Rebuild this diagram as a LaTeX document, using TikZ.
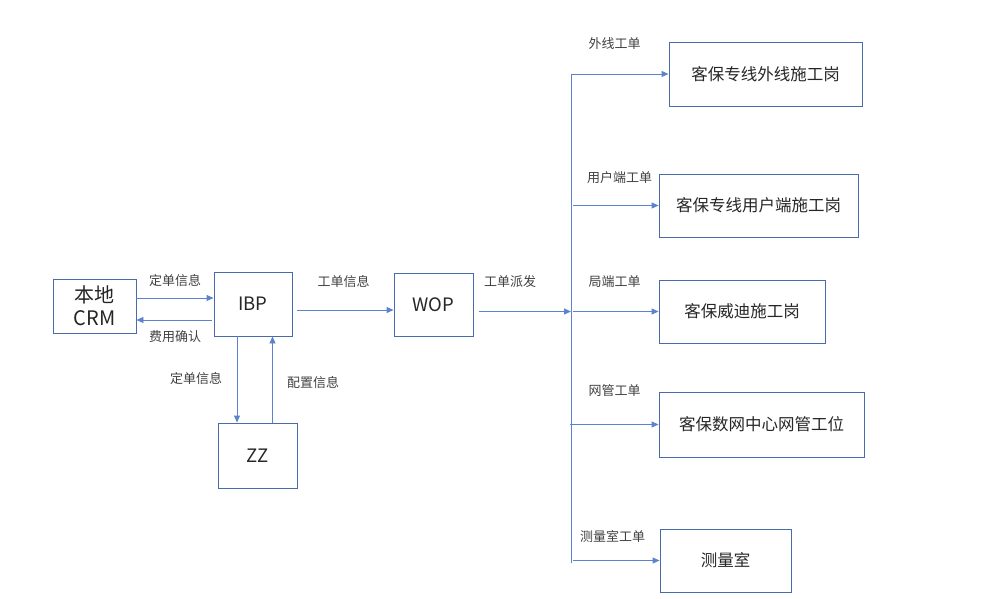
\documentclass[tikz,border=0pt]{standalone}
\usepackage{fontspec}
\setmainfont{Noto Sans CJK SC}
\usetikzlibrary{arrows.meta,calc}
\definecolor{boxc}{HTML}{4A6BAA}
\definecolor{arrc}{HTML}{5B82CC}
\definecolor{txtc}{HTML}{262626}
\definecolor{lblc}{HTML}{404040}
\begin{document}
\begin{tikzpicture}[x=1pt,y=-1pt,
  box/.style={draw=boxc,line width=0.9pt,inner sep=0pt,text=txtc,font=\fontsize{16.5}{18}\selectfont},
  arr/.style={draw=arrc,line width=0.9pt,-{Triangle[length=7pt,width=6pt]}},
  ln/.style={draw=arrc,line width=0.9pt},
  lbl/.style={text=lblc,inner sep=0pt,font=\fontsize{13}{14}\selectfont}]
\useasboundingbox (0,0) rectangle (1004,599);
% boxes
\node[box,minimum width=83pt,minimum height=54pt,align=center,font=\fontsize{20}{23}\selectfont] (crm) at (94.5,306) {本地\\CRM};
\node[box,minimum width=78pt,minimum height=64pt,font=\fontsize{18.5}{20}\selectfont] (ibp) at (253,304) {IBP};
\node[box,minimum width=79pt,minimum height=65pt,font=\fontsize{18.5}{20}\selectfont] (zz) at (257.5,455.5) {ZZ};
\node[box,minimum width=79pt,minimum height=63pt,font=\fontsize{18.5}{20}\selectfont] (wop) at (433.5,304.5) {WOP};
\node[box,minimum width=193pt,minimum height=64pt] (b1) at (765.5,74) {客保专线外线施工岗};
\node[box,minimum width=199pt,minimum height=63pt] (b2) at (758.5,205.5) {客保专线用户端施工岗};
\node[box,minimum width=166pt,minimum height=63pt] (b3) at (742,311.5) {客保威迪施工岗};
\node[box,minimum width=205pt,minimum height=65pt] (b4) at (761.5,424.5) {客保数网中心网管工位};
\node[box,minimum width=131pt,minimum height=63pt] (b5) at (725.5,560.5) {测量室};
% bus coordinates
\coordinate (bt) at (571,74);
\coordinate (bb) at (571,563);
\coordinate (bw) at (571,311.5);
\coordinate (j2) at (573,205.5);
\coordinate (j3) at (573,311.5);
\coordinate (j4) at (570,424.5);
\coordinate (j5) at (573,560.5);
% connectors
\draw[arr] ([yshift=8pt]crm.east) -- ([yshift=8pt]crm.east -| ibp.west);
\draw[arr] ([xshift=-2pt,yshift=-16pt]ibp.west) -- ([yshift=-16pt]ibp.west -| crm.east);
\draw[arr] ([xshift=-16pt]ibp.south) -- ([xshift=-16pt]ibp.south |- zz.north);
\draw[arr] ([xshift=15pt]zz.north) -- ([xshift=15pt]zz.north |- ibp.south);
\draw[arr] ([xshift=5pt,yshift=-6pt]ibp.east) -- ([yshift=-6pt]ibp.east -| wop.west);
\draw[arr] ([xshift=6pt,yshift=-7pt]wop.east) -- ([yshift=-7pt]wop.east -| bw);
\draw[arr] (bb) -- (bt) -- (b1.west);
\draw[arr] (j2) -- (b2.west);
\draw[arr] (j3) -- (b3.west);
\draw[arr] (j4) -- (b4.west);
\draw[arr] (j5) -- (b5.west);
% labels
\node[lbl] (l1) at (175,281) {定单信息};
\node[lbl] (l2) at (175,337) {费用确认};
\node[lbl] (l3) at (196,379) {定单信息};
\node[lbl] (l4) at (313,383) {配置信息};
\node[lbl] (l5) at (343.5,282) {工单信息};
\node[lbl] (l6) at (510,282) {工单派发};
\node[lbl] (l7) at (614.5,44) {外线工单};
\node[lbl] (l8) at (619.5,178) {用户端工单};
\node[lbl] (l9) at (614.5,282) {局端工单};
\node[lbl] (l10) at (614.5,391) {网管工单};
\node[lbl] (l11) at (612.5,536) {测量室工单};
\end{tikzpicture}
\end{document}
